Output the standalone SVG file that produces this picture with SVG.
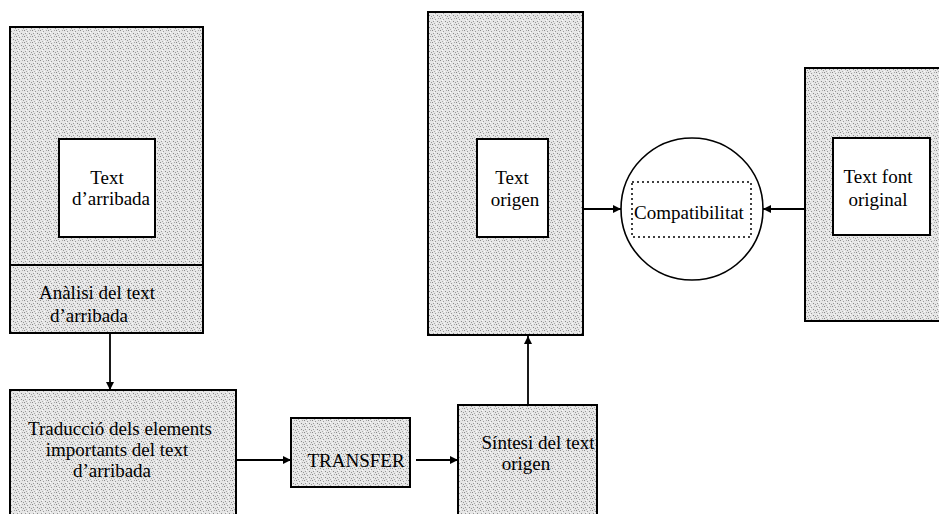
<svg xmlns="http://www.w3.org/2000/svg" width="939" height="514" viewBox="0 0 939 514">
<style>
.box{fill:url(#stip);stroke:#000;stroke-width:2}
.inner{fill:#fff;stroke:#000;stroke-width:2}
.t{font-family:"Liberation Serif","Times New Roman",serif;font-size:19px;fill:#000;text-anchor:middle}
.c{stroke:#000;stroke-width:1.8;fill:none}
</style>
<defs>
<pattern id="stip" width="8" height="6" patternUnits="userSpaceOnUse">
<rect width="8" height="6" fill="#e6e6e6"/>
<rect x="0" y="0" width="1" height="1" fill="#888"/>
<rect x="3" y="1" width="1" height="1" fill="#999"/>
<rect x="6" y="0" width="1" height="1" fill="#aaa"/>
<rect x="1" y="3" width="1" height="1" fill="#999"/>
<rect x="5" y="3" width="1" height="1" fill="#888"/>
<rect x="2" y="5" width="1" height="1" fill="#aaa"/>
<rect x="7" y="4" width="1" height="1" fill="#999"/>
<rect x="4" y="5" width="1" height="1" fill="#f8f8f8"/>
<rect x="2" y="2" width="1" height="1" fill="#fafafa"/>
</pattern>
<marker id="ah" viewBox="0 0 10 10" refX="10" refY="5" markerWidth="8" markerHeight="8" markerUnits="userSpaceOnUse" orient="auto">
<path d="M0,0 L10,5 L0,10 z" fill="#000"/>
</marker>
</defs>
<rect width="939" height="514" fill="#fff"/>
<g id="node-arribada">
<rect class="box" x="10" y="27" width="193" height="306"/>
<line x1="10" y1="265" x2="203" y2="265" stroke="#000" stroke-width="2"/>
<rect class="inner" x="59" y="139" width="96" height="98"/>
<text class="t" x="107" y="184">Text</text>
<text class="t" x="111" y="205">d’arribada</text>
<text class="t" x="97" y="299">Anàlisi del text</text>
<text class="t" x="89" y="322">d’arribada</text>
</g>
<g id="node-traduccio">
<rect class="box" x="10" y="390" width="226" height="130"/>
<text class="t" x="120" y="435">Traducció dels elements</text>
<text class="t" x="117" y="456">importants del text</text>
<text class="t" x="112" y="477">d’arribada</text>
</g>
<g id="node-transfer">
<rect class="box" x="291" y="418" width="119" height="69"/>
<text class="t" x="356" y="467">TRANSFER</text>
</g>
<g id="node-sintesi">
<rect class="box" x="458" y="405" width="139" height="115"/>
<text class="t" x="538" y="449">Síntesi del text</text>
<text class="t" x="526" y="470">origen</text>
</g>
<g id="node-origen">
<rect class="box" x="428" y="12" width="155" height="323"/>
<rect class="inner" x="477" y="139" width="71" height="98"/>
<text class="t" x="512" y="184">Text</text>
<text class="t" x="515" y="206">origen</text>
</g>
<g id="node-compat">
<circle cx="692" cy="209" r="71" fill="#fff" stroke="#000" stroke-width="1.6"/>
<rect x="632" y="182" width="119" height="55" fill="none" stroke="#000" stroke-width="1.5" stroke-dasharray="2,3"/>
<text class="t" x="689" y="219">Compatibilitat</text>
</g>
<g id="node-font">
<rect class="box" x="805" y="68" width="145" height="253"/>
<rect class="inner" x="833" y="138" width="97" height="97"/>
<text class="t" x="878" y="183">Text font</text>
<text class="t" x="878" y="206">original</text>
</g>
<g id="connectors">
<line class="c" x1="110" y1="333" x2="110" y2="390" marker-end="url(#ah)"/>
<line class="c" x1="236" y1="460" x2="291" y2="460" marker-end="url(#ah)"/>
<line class="c" x1="416" y1="460" x2="458" y2="460" marker-end="url(#ah)"/>
<line class="c" x1="528" y1="405" x2="528" y2="336" marker-end="url(#ah)"/>
<line class="c" x1="583" y1="209" x2="621" y2="209" marker-end="url(#ah)"/>
<line class="c" x1="805" y1="209" x2="763" y2="209" marker-end="url(#ah)"/>
</g>
</svg>
